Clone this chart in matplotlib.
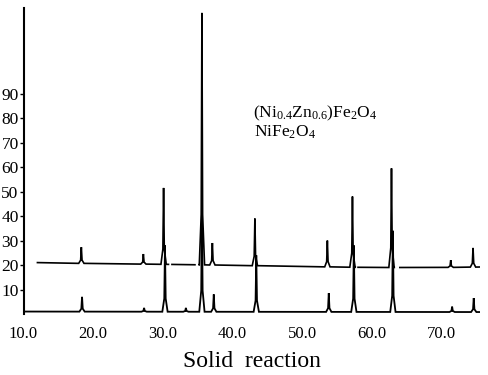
import numpy as np
import matplotlib
matplotlib.use("Agg")
import matplotlib.pyplot as plt

plt.rcParams['font.family'] = ['Liberation Serif', 'DejaVu Serif']
plt.rcParams['mathtext.fontset'] = 'custom'
plt.rcParams['mathtext.rm'] = 'Liberation Serif'
plt.rcParams['mathtext.it'] = 'Liberation Serif:italic'

# ---- data ----
x_ticks = [10, 20, 30, 40, 50, 60, 70]
x_tick_labels = ["10.0", "20.0", "30.0", "40.0", "50.0", "60.0", "70.0"]
y_ticks = [10, 20, 30, 40, 50, 60, 70, 80, 90]
y_tick_labels = ["10", "20", "30", "40", "50", "60", "70", "80", "90"]

# (Ni0.4Zn0.6)Fe2O4 pattern (upper trace, offset)
top_peak_pos = [18.3, 27.2, 30.1, 35.6, 37.1, 43.2, 53.6, 57.2, 62.8, 71.3, 74.5]
top_peak_h = [27.3, 24.5, 51.5, 123.0, 29.0, 39.0, 30.0, 48.0, 59.5, 22.0, 27.0]
top_base_x = [12.0, 20.0, 30.0, 40.0, 50.0, 60.0, 70.0, 75.5]
top_base_y = [21.0, 20.6, 20.3, 19.9, 19.4, 19.0, 19.0, 19.2]
top_segments = [(12.0, 30.8), (31.3, 34.6), (35.2, 57.6), (58.0, 63.2), (64.0, 75.5)]

# NiFe2O4 pattern (lower trace)
bot_peak_pos = [18.4, 27.3, 30.3, 33.3, 35.6, 37.3, 43.4, 53.8, 57.4, 63.0, 71.5, 74.6]
bot_peak_h = [7.0, 2.5, 28.0, 2.5, 44.0, 8.0, 24.0, 8.5, 28.0, 34.0, 3.0, 6.5]
bot_base_x = [10.0, 40.0, 75.5]
bot_base_y = [1.0, 0.9, 0.8]
bot_segments = [(10.0, 75.5)]

label_top = r"(Ni$_{0.4}$Zn$_{0.6}$)Fe$_2$O$_4$"
label_bot = r"NiFe$_2$O$_4$"
x_label = "Solid  reaction"


def build_trace(pos, h, bx, by, segments):
    xs, ys = [], []
    for (s0, s1) in segments:
        pts = [(s0, np.interp(s0, bx, by))]
        for c, top in zip(pos, h):
            if s0 < c < s1:
                b = np.interp(c, bx, by)
                sh = b + 0.2 * (top - b)
                pts += [(c - 0.38, b), (c - 0.1, sh), (c, top),
                        (c + 0.1, sh), (c + 0.38, b)]
        pts.append((s1, np.interp(s1, bx, by)))
        pts.sort()
        xs += [p[0] for p in pts] + [np.nan]
        ys += [p[1] for p in pts] + [np.nan]
    return np.array(xs), np.array(ys)


W, H = 488, 375
fig = plt.figure(figsize=(W / 100, H / 100), dpi=100)
ax = fig.add_axes([23.5 / W, 1 - 314 / H, (480 - 23.5) / W, (314 - 8) / H])

tx, ty = build_trace(top_peak_pos, top_peak_h, top_base_x, top_base_y, top_segments)
bx_, by_ = build_trace(bot_peak_pos, bot_peak_h, bot_base_x, bot_base_y, bot_segments)
ax.plot(tx, ty, color='black', lw=1.2, solid_joinstyle='miter')
ax.plot(bx_, by_, color='black', lw=1.3, solid_joinstyle='miter')

ax.set_xlim(10, 75.5)
ax.set_ylim(0, 125)
for sp in ['top', 'right', 'bottom']:
    ax.spines[sp].set_visible(False)
ax.spines['left'].set_linewidth(1.5)

ax.set_xticks(x_ticks)
ax.set_xticklabels(x_tick_labels, fontsize=12)
ax.tick_params(axis='x', length=0, pad=9)
ax.set_yticks(y_ticks)
ax.set_yticklabels(y_tick_labels, fontsize=12.5)
ax.tick_params(axis='y', length=3, width=1.0, direction='out', pad=0.5)

ax.set_xlabel(x_label, fontsize=17, labelpad=6)

fig.text(253 / W, 1 - 113 / H, label_top, fontsize=12.5, ha='left', va='center')
fig.text(254 / W, 1 - 132 / H, label_bot, fontsize=12.5, ha='left', va='center')

fig.savefig("out.png", dpi=100)
